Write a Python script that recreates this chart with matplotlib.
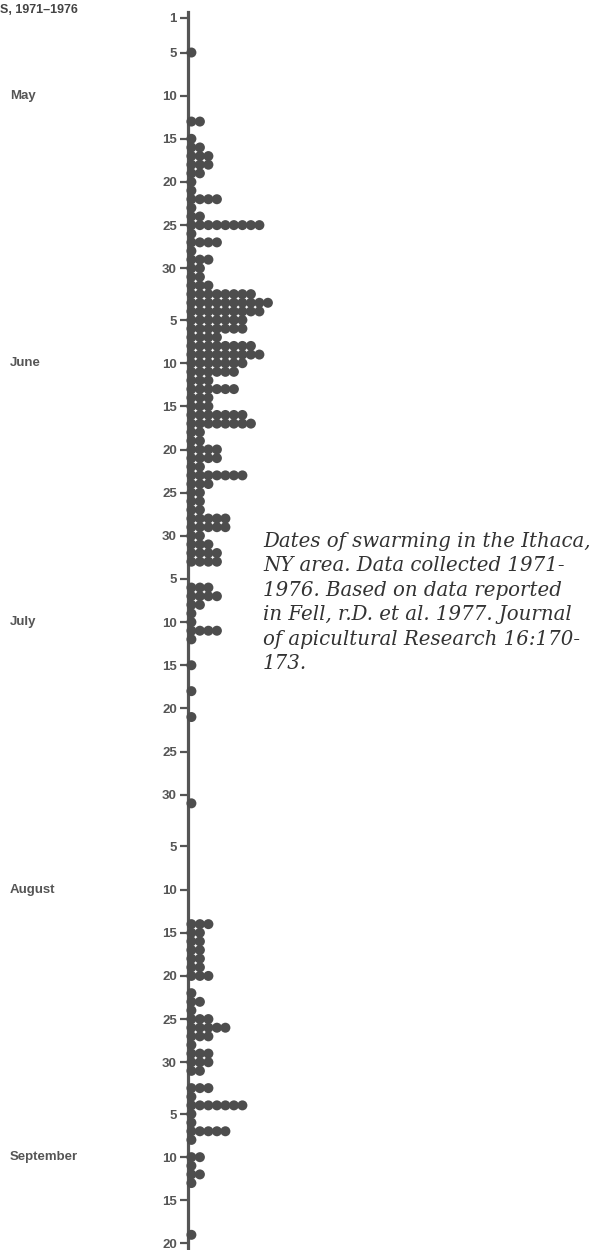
import numpy as np
import matplotlib
matplotlib.use("Agg")
import matplotlib.pyplot as plt
import matplotlib.transforms as mtransforms

# month layout
month_names = ["May", "June", "July", "August", "September"]
month_lengths = [31, 30, 31, 31, 20]
tick_days = [[1, 5, 10, 15, 20, 25, 30],
             [5, 10, 15, 20, 25, 30],
             [5, 10, 15, 20, 25, 30],
             [5, 10, 15, 20, 25, 30],
             [5, 10, 15, 20]]

# swarms counted per day
may_days = [5, 13, 15, 16, 17, 18, 19, 20, 21, 22, 23, 24, 25, 26, 27, 28, 29, 30, 31]
may_counts = [1, 2, 1, 2, 3, 3, 2, 1, 1, 4, 1, 2, 9, 1, 4, 1, 3, 2, 2]

june_days = list(range(1, 31))
june_counts = [3, 8, 10, 9, 7, 7, 4, 8, 9, 7, 6, 3, 6, 3, 3, 7, 8, 2, 2, 4,
               4, 2, 7, 3, 2, 2, 2, 5, 5, 2]

july_days = [1, 2, 3, 6, 7, 8, 9, 10, 11, 12, 15, 18, 21, 31]
july_counts = [3, 4, 4, 3, 4, 2, 1, 1, 4, 1, 1, 1, 1, 1]

aug_days = [14, 15, 16, 17, 18, 19, 20, 22, 23, 24, 25, 26, 27, 28, 29, 30, 31]
aug_counts = [3, 2, 2, 2, 2, 2, 3, 1, 2, 1, 3, 5, 3, 1, 3, 3, 2]

sep_days = [2, 3, 4, 5, 6, 7, 8, 10, 11, 12, 13, 19]
sep_counts = [3, 1, 7, 1, 1, 5, 1, 2, 1, 2, 1, 1]

month_days = [may_days, june_days, july_days, aug_days, sep_days]
month_counts = [may_counts, june_counts, july_counts, aug_counts, sep_counts]

caption = ("Dates of swarming in the Ithaca,\n"
           "NY area. Data collected 1971-\n"
           "1976. Based on data reported\n"
           "in Fell, r.D. et al. 1977. Journal\n"
           "of apicultural Research 16:170-\n"
           "173.")

gray = "#555555"
dotc = "#4d4d4d"

W, H = 594, 1250
fig = plt.figure(figsize=(W / 100, H / 100), dpi=100)
fig.patch.set_facecolor("white")

axis_x = 188          # px of the vertical axis
day_px = 8.63         # px per day
col_px = 8.5          # px per dot column
day0_px = 18          # px of May 1 from top
top_px = 12

ax = fig.add_axes([axis_x / W, 0, 1 - axis_x / W, 1 - top_px / H])
ax.set_xlim(0, (W - axis_x) / col_px)
ax.set_ylim((H - day0_px) / day_px, -(day0_px - top_px) / day_px)

# month offsets
offsets = np.concatenate([[0], np.cumsum(month_lengths)[:-1]])

xs, ys = [], []
for off, days, counts in zip(offsets, month_days, month_counts):
    for d, c in zip(days, counts):
        for k in range(c):
            xs.append(k + 0.4)
            ys.append(off + d - 1)
ax.scatter(xs, ys, s=52, color=dotc, edgecolors="none", zorder=3, clip_on=False)

# ticks
tpos, tlab = [], []
for off, tds in zip(offsets, tick_days):
    for d in tds:
        tpos.append(off + d - 1)
        tlab.append(str(d))
ax.set_yticks(tpos)
ax.set_yticklabels(tlab, fontsize=9.5, fontweight="bold", color=gray,
                   family="Liberation Sans")
ax.tick_params(axis="y", direction="out", length=6, width=1.6, color=gray, pad=2)
ax.set_xticks([])
for s in ["top", "right", "bottom"]:
    ax.spines[s].set_visible(False)
ax.spines["left"].set_linewidth(2.3)
ax.spines["left"].set_color(gray)
ax.patch.set_alpha(0)

# month names next to the 10th
trans = mtransforms.blended_transform_factory(fig.transFigure, ax.transData)
for off, name in zip(offsets, month_names):
    fig.text(10 / W, off + 9, name, transform=trans, ha="left", va="center",
             fontsize=9.5, fontweight="bold", color=gray, family="Liberation Sans")

fig.text(0, 1 - 10 / H, "S, 1971–1976", ha="left", va="center", fontsize=9,
         fontweight="bold", color="#444444", family="Liberation Sans")

fig.text(263 / W, 1 - 532 / H, caption, ha="left", va="top", fontsize=14.2,
         style="italic", family="DejaVu Serif", color="#333333", linespacing=1.36)

fig.savefig("out.png", dpi=100, facecolor="white")
